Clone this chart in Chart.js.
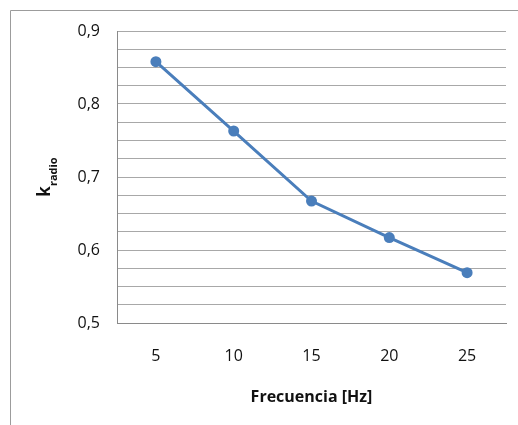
<!DOCTYPE html>
<html>
<head>
<meta charset="utf-8">
<script src="https://cdn.jsdelivr.net/npm/chart.js@4/dist/chart.umd.min.js"></script>
<style>
  html, body { margin: 0; padding: 0; background: #ffffff; }
  #wrap { position: relative; width: 518px; height: 425px; }
  canvas { display: block; }
</style>
</head>
<body>
<div id="wrap"><canvas id="c" width="518" height="425"></canvas></div>
<script>
// ---- data ----
const categories = ['5', '10', '15', '20', '25'];
const kRadio = [0.858, 0.763, 0.667, 0.617, 0.569];
const yMin = 0.5;
const yMax = 0.9;
const yGridStep = 0.025;
const xTitle = 'Frecuencia [Hz]';
const yTitleMain = 'k';
const yTitleSub = 'radio';

const FONT = "'Open Sans', 'DejaVu Sans', sans-serif";
const blue = '#4A7EBB';

const framePlugin = {
  id: 'frame',
  beforeDraw(chart) {
    const ctx = chart.ctx;
    ctx.save();
    ctx.strokeStyle = '#9c9c9c';
    ctx.lineWidth = 1;
    ctx.beginPath();
    ctx.moveTo(10.5, 425);
    ctx.lineTo(10.5, 10.5);
    ctx.lineTo(518, 10.5);
    ctx.stroke();
    ctx.restore();
  }
};

const yTitlePlugin = {
  id: 'ytitle',
  afterDraw(chart) {
    const ctx = chart.ctx;
    const area = chart.chartArea;
    ctx.save();
    ctx.fillStyle = '#111111';
    ctx.font = 'bold 17px ' + FONT;
    const kw = ctx.measureText(yTitleMain).width;
    ctx.font = 'bold 11px ' + FONT;
    const sw = ctx.measureText(yTitleSub).width;
    const total = kw + sw;
    const cy = (area.top + area.bottom) / 2;
    ctx.translate(50, cy + total / 2);
    ctx.rotate(-Math.PI / 2);
    ctx.textBaseline = 'alphabetic';
    ctx.textAlign = 'left';
    ctx.font = 'bold 17px ' + FONT;
    ctx.fillText(yTitleMain, 0, 0);
    ctx.font = 'bold 11px ' + FONT;
    ctx.fillText(yTitleSub, kw, 7);
    ctx.restore();
  }
};

new Chart(document.getElementById('c'), {
  type: 'line',
  data: {
    labels: categories,
    datasets: [{
      data: kRadio,
      borderColor: blue,
      backgroundColor: blue,
      borderWidth: 3,
      pointRadius: 5.5,
      pointBorderWidth: 0,
      pointBackgroundColor: blue,
      tension: 0,
      fill: false
    }]
  },
  options: {
    responsive: false,
    animation: false,
    devicePixelRatio: 1,
    layout: { padding: { top: 31, right: 12, left: 0, bottom: 0 } },
    plugins: {
      legend: { display: false },
      tooltip: { enabled: false },
      title: { display: false }
    },
    scales: {
      x: {
        type: 'category',
        offset: true,
        grid: { display: false, drawTicks: false },
        border: { display: true, color: '#8a8a8a', width: 1 },
        ticks: {
          color: '#111111',
          font: { family: FONT, size: 16 },
          padding: 24,
          maxRotation: 0
        },
        title: {
          display: true,
          text: xTitle,
          color: '#111111',
          font: { family: FONT, size: 16, weight: 'bold' },
          padding: { top: 0, bottom: 18 }
        },
        afterFit(scale) { scale.height = 102; }
      },
      y: {
        min: yMin,
        max: yMax,
        grid: { color: '#a8a8a8', lineWidth: 1, drawTicks: false },
        border: { display: true, color: '#8a8a8a', width: 1 },
        ticks: {
          stepSize: yGridStep,
          autoSkip: false,
          color: '#111111',
          font: { family: FONT, size: 16 },
          padding: 17,
          callback(v) {
            const t = v * 10;
            if (Math.abs(t - Math.round(t)) < 1e-6) {
              return (Math.round(t) / 10).toFixed(1).replace('.', ',');
            }
            return '';
          }
        },
        afterFit(scale) { scale.width = 117; }
      }
    }
  },
  plugins: [framePlugin, yTitlePlugin]
});
</script>
</body>
</html>
